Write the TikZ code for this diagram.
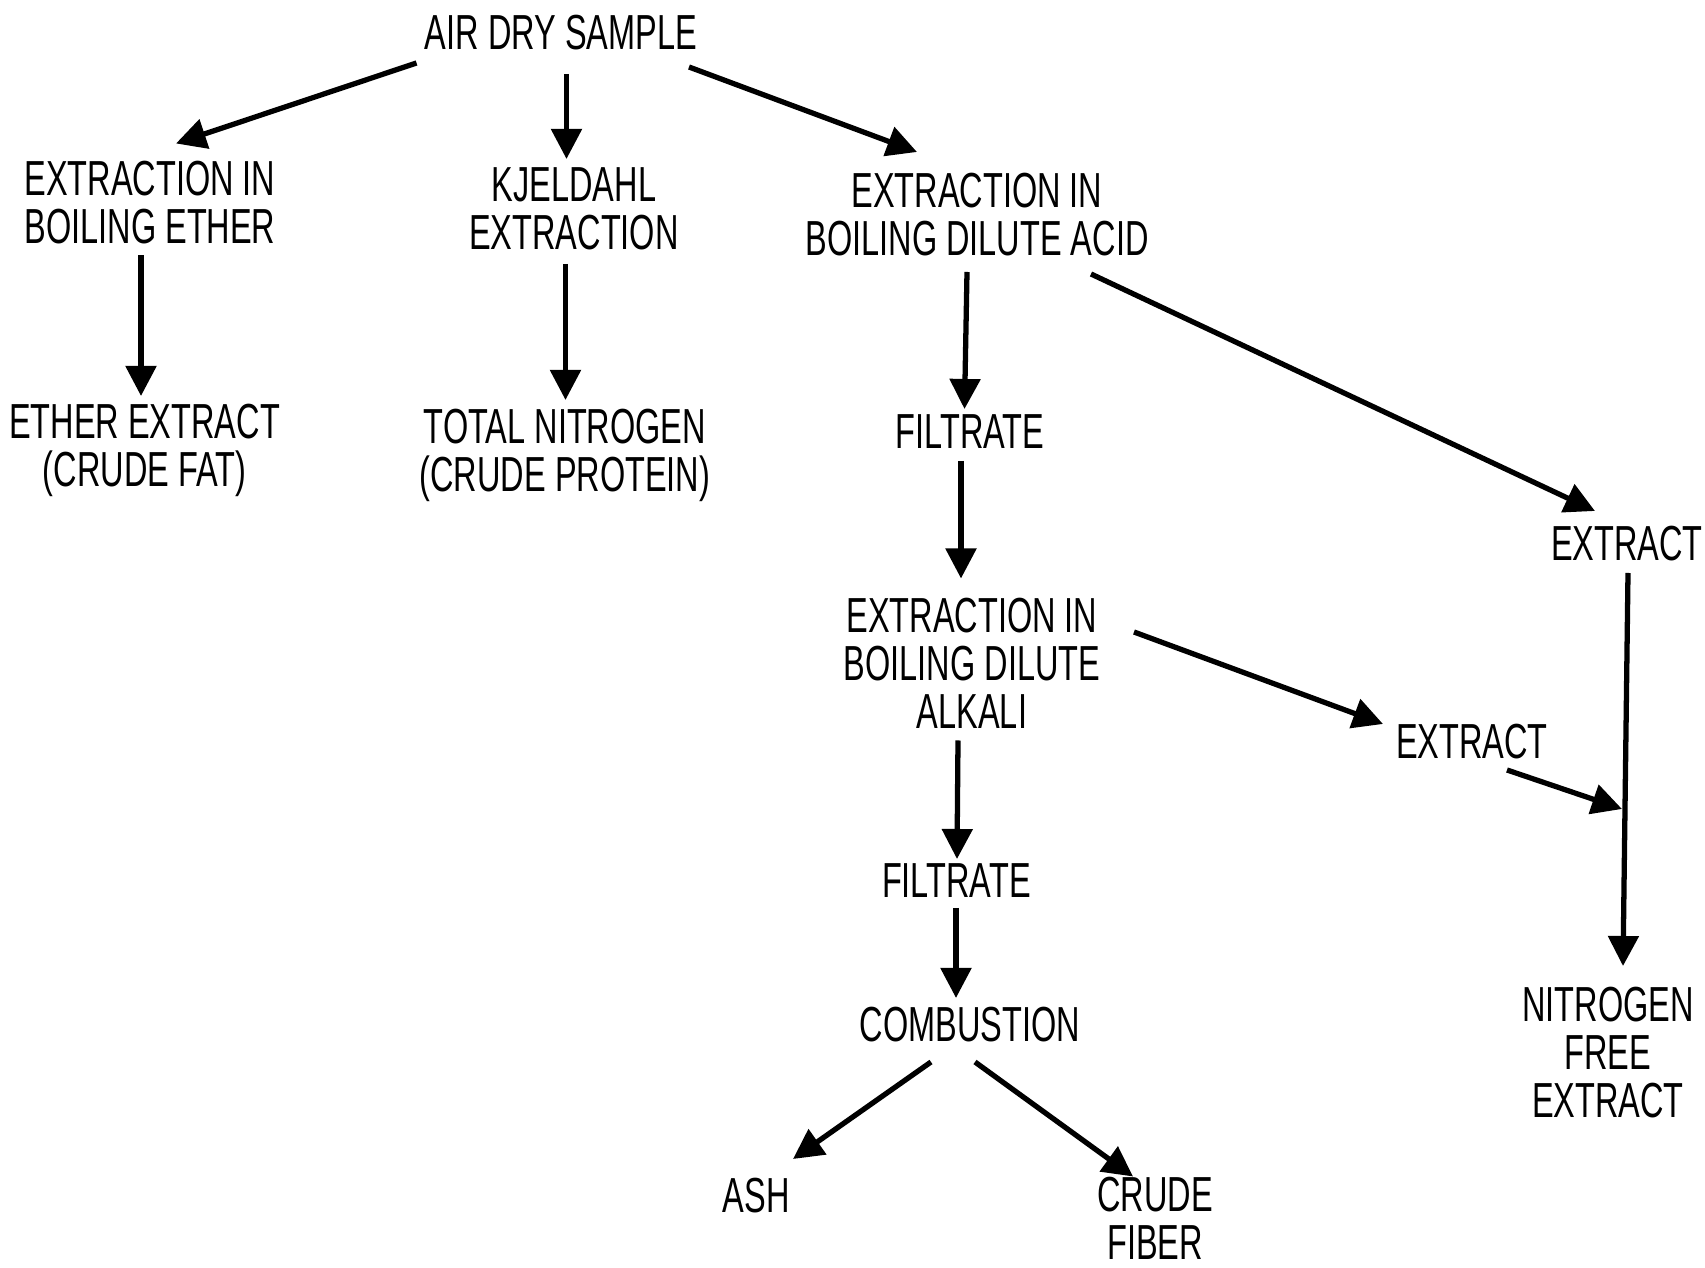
\documentclass[tikz,border=0pt]{standalone}
\usepackage{fontspec}
\setmainfont[FakeStretch=0.66]{Liberation Sans}
\usetikzlibrary{arrows.meta}
\begin{document}
\begin{tikzpicture}[x=0.01cm,y=-0.01cm,
  lbl/.style={inner sep=0pt,align=center,font=\fontsize{14}{13.66}\selectfont},
  arr/.style={line width=1.5pt,-{Triangle[length=0.30cm,width=0.30cm]}},
  plain/.style={line width=1.5pt}]
\useasboundingbox (0,0) rectangle (1705,1268);
% nodes
\node[lbl] (air) at (561,33) {AIR DRY SAMPLE};
\node[lbl] (ether) at (150,203) {EXTRACTION IN\\BOILING ETHER};
\node[lbl] (kjel) at (574,209) {KJELDAHL\\EXTRACTION};
\node[lbl] (acid) at (977,215) {EXTRACTION IN\\BOILING DILUTE ACID};
\node[lbl] (fat) at (144.6,450) {ETHER EXTRACT\\(CRUDE FAT)};
\node[lbl] (prot) at (565,455.6) {TOTAL NITROGEN\\(CRUDE PROTEIN)};
\node[lbl] (filt1) at (970,431.7) {FILTRATE};
\node[lbl] (extr1) at (1627,543.7) {EXTRACT};
\node[lbl] (alk) at (972,663) {EXTRACTION IN\\BOILING DILUTE\\ALKALI};
\node[lbl] (extr2) at (1472,741.6) {EXTRACT};
\node[lbl] (filt2) at (956.4,880.8) {FILTRATE};
\node[lbl] (comb) at (970,1024.3) {COMBUSTION};
\node[lbl] (ash) at (756.3,1196) {ASH};
\node[lbl] (fiber) at (1155,1218) {CRUDE\\FIBER};
\node[lbl] (nfe) at (1608,1052.6) {NITROGEN\\FREE\\EXTRACT};
% connector end points
\coordinate (a1s) at (416.5,63);  \coordinate (a1e) at (176,143.5);
\coordinate (a2s) at (566.5,74);  \coordinate (a2e) at (566.5,159);
\coordinate (a3s) at (689,67);    \coordinate (a3e) at (917,152);
\coordinate (b1s) at (141,255.5); \coordinate (b1e) at (141,396);
\coordinate (b2s) at (565.5,264); \coordinate (b2e) at (565.5,400);
\coordinate (c1s) at (967,272);   \coordinate (c1e) at (964.5,409);
\coordinate (c2s) at (1091,274);  \coordinate (c2e) at (1595,511);
\coordinate (d1s) at (961,461);   \coordinate (d1e) at (961,578.5);
\coordinate (e1s) at (1134,632);  \coordinate (e1e) at (1383,724);
\coordinate (e2s) at (1507,770);  \coordinate (e2e) at (1622,809);
\coordinate (v1s) at (1628,573);  \coordinate (v1e) at (1623,966);
\coordinate (f1s) at (958,740.5); \coordinate (f1e) at (957,859);
\coordinate (g1s) at (956,908);   \coordinate (g1e) at (956,998);
\coordinate (h1s) at (931,1062);  \coordinate (h1e) at (793,1159);
\coordinate (h2s) at (975,1062);  \coordinate (h2e) at (1133,1176.5);
% connectors
\draw[arr] (a1s) -- (a1e);
\draw[arr] (a2s) -- (a2e);
\draw[arr] (a3s) -- (a3e);
\draw[arr] (b1s) -- (b1e);
\draw[arr] (b2s) -- (b2e);
\draw[arr] (c1s) -- (c1e);
\draw[arr] (c2s) -- (c2e);
\draw[arr] (d1s) -- (d1e);
\draw[arr] (e1s) -- (e1e);
\draw[arr] (e2s) -- (e2e);
\draw[arr] (v1s) -- (v1e);
\draw[arr] (f1s) -- (f1e);
\draw[arr] (g1s) -- (g1e);
\draw[arr] (h1s) -- (h1e);
\draw[arr] (h2s) -- (h2e);
\end{tikzpicture}
\end{document}
